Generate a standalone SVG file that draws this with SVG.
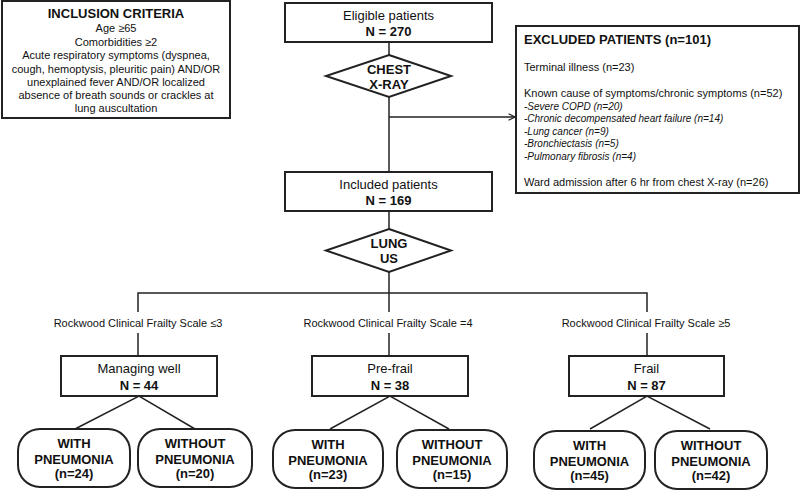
<svg xmlns="http://www.w3.org/2000/svg" width="800" height="491" viewBox="0 0 800 491">
<defs>
<style>
text{font-family:"Liberation Sans",Arial,sans-serif;fill:#111;}
.box{fill:#fff;stroke:#222;stroke-width:2;}
.ln{fill:none;stroke:#222;stroke-width:1.5;}
.c{text-anchor:middle;}
.t13{font-size:13px;}
.b{font-weight:bold;}
.t11{font-size:11px;}
.it{font-size:10px;font-style:italic;}
</style>
<marker id="arr" viewBox="0 0 10 10" refX="9" refY="5" markerWidth="8" markerHeight="8" markerUnits="userSpaceOnUse" orient="auto">
<path d="M1,1 L9,5 L1,9" fill="none" stroke="#222" stroke-width="1.5"/>
</marker>
</defs>
<rect width="800" height="491" fill="#fff"/>
<g id="connectors">
<line class="ln" x1="389" y1="42" x2="389" y2="55"/>
<line class="ln" x1="389" y1="97" x2="389" y2="172"/>
<line class="ln" x1="389" y1="117" x2="515" y2="117" marker-end="url(#arr)"/>
<line class="ln" x1="389" y1="211" x2="389" y2="229"/>
<line class="ln" x1="389" y1="272" x2="389" y2="312"/>
<polyline class="ln" points="138,312 138,293 647,293 647,312"/>
<line class="ln" x1="138" y1="333" x2="138" y2="356"/>
<line class="ln" x1="389" y1="333" x2="389" y2="356"/>
<line class="ln" x1="647" y1="333" x2="647" y2="356"/>
<polyline class="ln" points="75,429 139,396 195,429"/>
<polyline class="ln" points="330,429 390,396 449,429"/>
<polyline class="ln" points="590,429 647,396 710,429"/>
</g>
<g id="inclusion">
<rect class="box" x="2" y="1" width="228" height="117"/>
<text class="c t13 b" x="116" y="17.5">INCLUSION CRITERIA</text>
<text class="c t11" x="116" y="32">Age ≥65</text>
<text class="c t11" x="116" y="45.5">Comorbidities ≥2</text>
<text class="c t11" x="116" y="59">Acute respiratory symptoms (dyspnea,</text>
<text class="c t11" x="116" y="72.5">cough, hemoptysis, pleuritic pain) AND/OR</text>
<text class="c t11" x="116" y="86">unexplained fever AND/OR localized</text>
<text class="c t11" x="116" y="99">absence of breath sounds or crackles at</text>
<text class="c t11" x="116" y="112">lung auscultation</text>
</g>
<g id="eligible">
<rect class="box" x="285" y="3" width="207" height="39"/>
<text class="c t13" x="388.5" y="19.5">Eligible patients</text>
<text class="c t13 b" x="388.5" y="35.5">N = 270</text>
</g>
<g id="chest-xray">
<polygon class="box" points="389,55 451,76 389,97 326,76"/>
<text class="c t13 b" x="389" y="73.5">CHEST</text>
<text class="c t13 b" x="389" y="88.5">X-RAY</text>
</g>
<g id="excluded">
<rect class="box" x="516" y="26" width="283" height="167"/>
<text class="t13 b" x="524" y="43.5">EXCLUDED PATIENTS (n=101)</text>
<text class="t11" x="524" y="71">Terminal illness (n=23)</text>
<text class="t11" x="524" y="97">Known cause of symptoms/chronic symptoms (n=52)</text>
<text class="it" x="524" y="109.5">-Severe COPD (n=20)</text>
<text class="it" x="524" y="121.5">-Chronic decompensated heart failure (n=14)</text>
<text class="it" x="524" y="134.5">-Lung cancer (n=9)</text>
<text class="it" x="524" y="146.5">-Bronchiectasis (n=5)</text>
<text class="it" x="524" y="159.5">-Pulmonary fibrosis (n=4)</text>
<text class="t11" x="524" y="186">Ward admission after 6 hr from chest X-ray (n=26)</text>
</g>
<g id="included">
<rect class="box" x="285" y="172" width="207" height="39"/>
<text class="c t13" x="388.5" y="188.5">Included patients</text>
<text class="c t13 b" x="388.5" y="204.5">N = 169</text>
</g>
<g id="lung-us">
<polygon class="box" points="389,229 451,250.5 389,272 326,250.5"/>
<text class="c t13 b" x="389" y="247.5">LUNG</text>
<text class="c t13 b" x="389" y="262.5">US</text>
</g>
<g id="labels">
<text class="c t11" x="138" y="327">Rockwood Clinical Frailty Scale ≤3</text>
<text class="c t11" x="388" y="327">Rockwood Clinical Frailty Scale =4</text>
<text class="c t11" x="646" y="327">Rockwood Clinical Frailty Scale ≥5</text>
</g>
<g id="managing-well">
<rect class="box" x="61" y="356" width="156" height="40"/>
<text class="c t13" x="139" y="372.5">Managing well</text>
<text class="c t13 b" x="139" y="389.5">N = 44</text>
</g>
<g id="pre-frail">
<rect class="box" x="312" y="356" width="156" height="40"/>
<text class="c t13" x="390" y="372.5">Pre-frail</text>
<text class="c t13 b" x="390" y="389.5">N = 38</text>
</g>
<g id="frail">
<rect class="box" x="569" y="356" width="155" height="40"/>
<text class="c t13" x="646.5" y="372.5">Frail</text>
<text class="c t13 b" x="646.5" y="389.5">N = 87</text>
</g>
<g id="mw-with">
<rect class="box" x="18" y="429" width="112" height="58" rx="22"/>
<text class="c t13 b" x="74" y="447.5">WITH</text>
<text class="c t13 b" x="74" y="463.5">PNEUMONIA</text>
<text class="c t13 b" x="74" y="477.5">(n=24)</text>
</g>
<g id="mw-without">
<rect class="box" x="138" y="429" width="114" height="58" rx="22"/>
<text class="c t13 b" x="195" y="447.5">WITHOUT</text>
<text class="c t13 b" x="195" y="463.5">PNEUMONIA</text>
<text class="c t13 b" x="195" y="477.5">(n=20)</text>
</g>
<g id="pf-with">
<rect class="box" x="273" y="430" width="110" height="58" rx="22"/>
<text class="c t13 b" x="328" y="448.5">WITH</text>
<text class="c t13 b" x="328" y="464.5">PNEUMONIA</text>
<text class="c t13 b" x="328" y="478.5">(n=23)</text>
</g>
<g id="pf-without">
<rect class="box" x="397" y="430" width="110" height="58" rx="22"/>
<text class="c t13 b" x="452" y="448.5">WITHOUT</text>
<text class="c t13 b" x="452" y="464.5">PNEUMONIA</text>
<text class="c t13 b" x="452" y="478.5">(n=15)</text>
</g>
<g id="fr-with">
<rect class="box" x="534" y="431" width="111" height="58" rx="22"/>
<text class="c t13 b" x="589.5" y="449.5">WITH</text>
<text class="c t13 b" x="589.5" y="465.5">PNEUMONIA</text>
<text class="c t13 b" x="589.5" y="479.5">(n=45)</text>
</g>
<g id="fr-without">
<rect class="box" x="655" y="431" width="112" height="58" rx="22"/>
<text class="c t13 b" x="711" y="449.5">WITHOUT</text>
<text class="c t13 b" x="711" y="465.5">PNEUMONIA</text>
<text class="c t13 b" x="711" y="479.5">(n=42)</text>
</g>
</svg>
